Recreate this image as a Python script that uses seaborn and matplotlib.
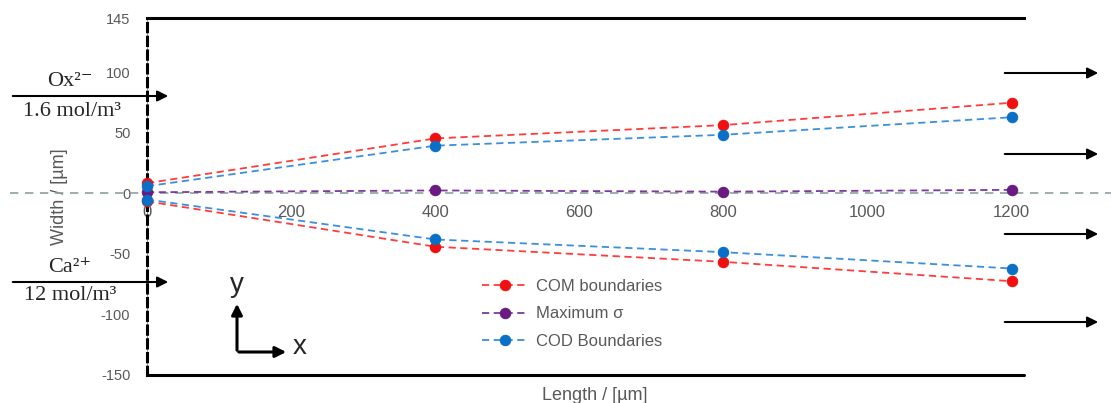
import matplotlib
matplotlib.use("Agg")
import matplotlib.pyplot as plt
import seaborn as sns
import pandas as pd

# values
length = [0, 400, 800, 1200]
com_upper = [8.5, 45.5, 56.5, 75]
com_lower = [-6.5, -44, -56.5, -72.5]
sigma_max = [1, 2.5, 1.5, 3]
cod_upper = [6, 39.5, 48.5, 63]
cod_lower = [-5, -38, -48.5, -62]

series_names = ["COM boundaries", "Maximum σ", "COD Boundaries"]
y_ticks = [-150, -100, -50, 0, 50, 100, 145]
x_ticks = [0, 200, 400, 600, 800, 1000, 1200]

rows = []
for name, side, vals in [
    ("COM boundaries", "upper", com_upper),
    ("COM boundaries", "lower", com_lower),
    ("Maximum σ", "mid", sigma_max),
    ("COD Boundaries", "upper", cod_upper),
    ("COD Boundaries", "lower", cod_lower),
]:
    for x, v in zip(length, vals):
        rows.append({"length": x, "width": v, "series": name, "side": side})
df = pd.DataFrame(rows)

line_colors = {"COM boundaries": "#ff3b3b", "Maximum σ": "#7a3a9e", "COD Boundaries": "#3b8fde"}
marker_colors = {"COM boundaries": "#f01010", "Maximum σ": "#6a1b82", "COD Boundaries": "#0a6fc6"}

sns.set_style("white")
plt.rcParams["font.family"] = ["Liberation Sans", "DejaVu Sans"]
plt.rcParams["axes.unicode_minus"] = False

W, H = 1111, 403
fig = plt.figure(figsize=(W / 100, H / 100), dpi=100)
ax = fig.add_axes([147 / W, 1 - 375 / H, (1024 - 147) / W, (375 - 18) / H])


def fx(px):
    return px / W


def fy(py):
    return 1 - py / H


# grey zero line running across the whole picture
ax.plot([-0.156, 1.1], [0, 0], transform=ax.get_yaxis_transform(), color="#8ea1a1",
        lw=1.2, ls=(0, (5, 4)), clip_on=False, zorder=1)
ax.axvline(0, color="#9a9a9a", lw=0.8, zorder=1)

for name in series_names:
    sub = df[df["series"] == name]
    for i, (side, part) in enumerate(sub.groupby("side", sort=False)):
        sns.lineplot(data=part, x="length", y="width", ax=ax, estimator=None, sort=False,
                     color=line_colors[name], linestyle=(0, (4, 2.5)), lw=1.3,
                     marker="o", markersize=7.5, markerfacecolor=marker_colors[name],
                     markeredgecolor=marker_colors[name], clip_on=False, zorder=3,
                     label=name if i == 0 else "_nolegend_", legend=False)

ax.set_xlim(0, 1217)
ax.set_ylim(-150, 145)
ax.set_yticks(y_ticks)
ax.set_xticks(x_ticks)
ax.tick_params(axis="y", length=0, pad=12, labelsize=10.5, labelcolor="#595959")
ax.tick_params(axis="x", length=0, pad=8, labelsize=12, labelcolor="#595959")

ax.spines["bottom"].set_position(("data", 0))
ax.spines["bottom"].set_color("none")
ax.spines["right"].set_visible(False)
ax.spines["top"].set_color("black")
ax.spines["top"].set_linewidth(2.2)
ax.spines["left"].set_color("black")
ax.spines["left"].set_linewidth(2.2)
ax.spines["left"].set_linestyle((0, (2.7, 1.8)))
ax.plot([0, 1], [0, 0], transform=ax.transAxes, color="black", lw=2.2, clip_on=False)

ax.set_xlabel("Length / [µm]", fontsize=13, color="#595959")
ax.set_ylabel("Width / [µm]", fontsize=13, color="#595959")
ax.xaxis.set_label_coords(0.51, -0.035)
ax.yaxis.set_label_coords(-0.09, 0.5)

leg = ax.legend(loc="upper left", bbox_to_anchor=(fx(482), fy(279)), bbox_transform=fig.transFigure,
                frameon=False, fontsize=12, handlelength=2.8, handletextpad=0.45,
                labelspacing=0.75, borderpad=0, borderaxespad=0)
for t in leg.get_texts():
    t.set_color("#595959")

# boundary conditions: inlet arrows and concentrations
arrow_kw = dict(arrowstyle="-|>", color="black", lw=1.5, mutation_scale=16)
for y0 in (96, 282):
    fig.add_artist(matplotlib.patches.FancyArrowPatch((fx(10), fy(y0)), (fx(171), fy(y0)),
                                                      transform=fig.transFigure, **arrow_kw))
serif = ["Liberation Serif", "DejaVu Serif"]
fig.text(fx(70), fy(81), "Ox²⁻", ha="center", va="center", fontsize=16, family=serif)
fig.text(fx(72), fy(111), "1.6 mol/m³", ha="center", va="center", fontsize=16, family=serif)
fig.text(fx(70), fy(267), "Ca²⁺", ha="center", va="center", fontsize=16, family=serif)
fig.text(fx(70), fy(295), "12 mol/m³", ha="center", va="center", fontsize=16, family=serif)

# outlet arrows on the right
for y0 in (73, 154, 234, 322):
    fig.add_artist(matplotlib.patches.FancyArrowPatch((fx(1002), fy(y0)), (fx(1101), fy(y0)),
                                                      transform=fig.transFigure, **arrow_kw))

# coordinate system sketch
xy_kw = dict(arrowstyle="-|>", color="black", lw=2.2, mutation_scale=16)
fig.add_artist(matplotlib.patches.FancyArrowPatch((fx(237), fy(353)), (fx(237), fy(301)),
                                                  transform=fig.transFigure, **xy_kw))
fig.add_artist(matplotlib.patches.FancyArrowPatch((fx(236), fy(352)), (fx(289), fy(352)),
                                                  transform=fig.transFigure, **xy_kw))
fig.text(fx(237), fy(285), "y", ha="center", va="center", fontsize=20)
fig.text(fx(300), fy(347), "x", ha="center", va="center", fontsize=20)

fig.savefig("out.png", dpi=100)
